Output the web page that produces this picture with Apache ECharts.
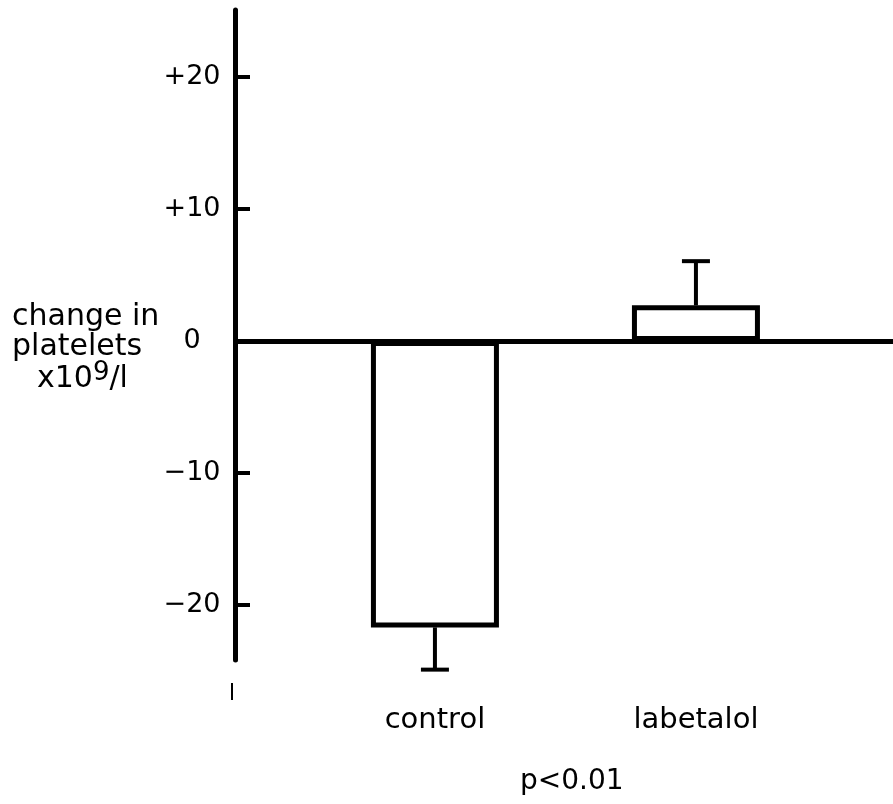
<!DOCTYPE html>
<html>
<head>
<meta charset="utf-8">
<script src="https://cdn.jsdelivr.net/npm/echarts@6/dist/echarts.min.js"></script>
<style>html,body{margin:0;padding:0;background:#fff;}#c{width:893px;height:804px;}</style>
</head>
<body>
<div id="c"></div>
<script>
var categories = ['control', 'labetalol'];
var means = [-21.7, 2.7];
var errorEnds = [-24.9, 6.05];
var yTicks = [-20, -10, 0, 10, 20];
var yTickLabels = ['\u221220', '\u221210', '0', '+10', '+20'];
var yNameLines = ['change in', 'platelets'];
var yNameUnit = ['x10', '9', '/l'];
var footnote = 'p<0.01';

var FONT = 'DejaVu Sans';
var chart = echarts.init(document.getElementById('c'), null, {renderer: 'canvas'});

var barData = categories.map(function (c, i) { return [i + 1, means[i]]; });
var errData = categories.map(function (c, i) { return [i + 1, means[i], errorEnds[i]]; });

chart.setOption({
  animation: false,
  backgroundColor: '#fff',
  grid: {left: 235, right: 0, top: 10, bottom: 144, containLabel: false},
  xAxis: {
    type: 'value',
    min: 0.234, max: 2.755,
    position: 'bottom',
    axisLine: {show: false},
    axisTick: {show: false},
    splitLine: {show: false},
    axisLabel: {
      customValues: [1, 2],
      formatter: function (v) { return categories[Math.round(v) - 1] || ''; },
      color: '#000', fontFamily: FONT, fontSize: 29, lineHeight: 30, margin: 45
    }
  },
  yAxis: {
    type: 'value',
    min: -24.17, max: 25.08,
    axisLine: {show: true, onZero: false, lineStyle: {color: '#000', width: 5}},
    axisTick: {show: true, inside: true, length: 15, lineStyle: {color: '#000', width: 4}, customValues: yTicks},
    splitLine: {show: false},
    axisLabel: {
      customValues: yTicks,
      formatter: function (v) { return yTickLabels[yTicks.indexOf(Math.round(v))]; },
      color: '#000', fontFamily: FONT, fontSize: 27, align: 'center', margin: 43
    }
  },
  series: [
    {
      type: 'bar',
      data: barData,
      barWidth: 128,
      itemStyle: {color: '#fff', borderColor: '#000', borderWidth: 5},
      markLine: {
        silent: true,
        symbol: ['none', 'none'],
        label: {show: false},
        lineStyle: {color: '#000', width: 5, type: 'solid'},
        data: [{yAxis: 0}]
      },
      z: 2
    },
    {
      type: 'custom',
      clip: false,
      z: 3,
      data: errData,
      renderItem: function (params, api) {
        var x = api.value(0);
        var p0 = api.coord([x, api.value(1)]);
        var p1 = api.coord([x, api.value(2)]);
        var hw = 14;
        return {
          type: 'group',
          children: [
            {type: 'line', shape: {x1: p0[0], y1: p0[1], x2: p1[0], y2: p1[1]}, style: {stroke: '#000', lineWidth: 4}},
            {type: 'line', shape: {x1: p1[0] - hw, y1: p1[1], x2: p1[0] + hw, y2: p1[1]}, style: {stroke: '#000', lineWidth: 4}}
          ]
        };
      }
    }
  ],
  graphic: [
    {type: 'text', left: 12, top: 302, style: {text: yNameLines[0], fill: '#000', fontFamily: FONT, fontSize: 30, lineHeight: 30}},
    {type: 'text', left: 12, top: 332, style: {text: yNameLines[1], fill: '#000', fontFamily: FONT, fontSize: 30, lineHeight: 30}},
    {type: 'text', left: 37, top: 360, style: {
      text: '{n|' + yNameUnit[0] + '}{s|' + yNameUnit[1] + '}{n|' + yNameUnit[2] + '}',
      fill: '#000',
      rich: {
        n: {fontFamily: FONT, fontSize: 30, lineHeight: 38, fill: '#000'},
        s: {fontFamily: FONT, fontSize: 26, lineHeight: 24, verticalAlign: 'top', fill: '#000'}
      }
    }},
    {type: 'text', left: 520, top: 768, style: {text: footnote, fill: '#000', fontFamily: FONT, fontSize: 28, lineHeight: 28}},
    {type: 'line', shape: {x1: 232, y1: 683, x2: 232, y2: 700}, style: {stroke: '#000', lineWidth: 2}}
  ]
});
</script>
</body>
</html>
